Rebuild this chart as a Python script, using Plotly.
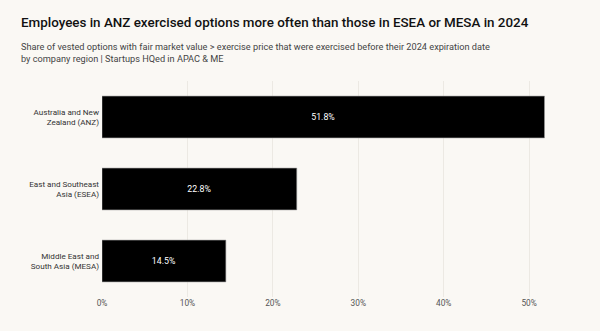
import plotly.graph_objects as go

regions = ["Australia and New<br>Zealand (ANZ)", "East and Southeast<br>Asia (ESEA)", "Middle East and<br>South Asia (MESA)"]
values = [51.8, 22.8, 14.5]
x_ticks = [0, 10, 20, 30, 40, 50]
x_tick_labels = ["0%", "10%", "20%", "30%", "40%", "50%"]

title = "Employees in ANZ exercised options more often than those in ESEA or MESA in 2024"
subtitle = ("Share of vested options with fair market value > exercise price that were exercised before their 2024 expiration date"
            "<br>by company region | Startups HQed in APAC & ME")

bg = "#FAF8F4"
font = "Roboto"

fig = go.Figure(go.Bar(
    x=values, y=regions, orientation="h",
    marker=dict(color="#000000", line=dict(color="#9a9a9a", width=0.6)),
    text=[f"{v:.1f}%" for v in values], textposition="inside",
    insidetextanchor="middle",
    textfont=dict(color="white", size=8.8, family=font),
    width=0.58,
))

W, H = 600, 331
ml, mr, mt, mb = 102, 35, 81, 34
pw, ph = W - ml - mr, H - mt - mb

def px(x):
    return (x - ml) / pw

def py(y):
    return (H - mb - y) / ph

fig.update_layout(
    width=W, height=H,
    margin=dict(l=ml, r=mr, t=mt, b=mb),
    paper_bgcolor=bg, plot_bgcolor=bg,
    showlegend=False,
    font=dict(family=font, color="#333"),
    xaxis=dict(range=[0, 54.2], tickvals=x_ticks, ticktext=x_tick_labels,
               showgrid=True, gridcolor="#ECE9E3", gridwidth=1, zeroline=False,
               showline=False, ticks="", tickfont=dict(size=8.3, color="#555", family=font)),
    yaxis=dict(autorange="reversed", showgrid=False, ticks="", showline=False,
               tickfont=dict(size=8.1, color="#333", family=font), ticklabelstandoff=2),
    annotations=[
        dict(text=title, xref="paper", yref="paper", x=px(19), y=py(22), xanchor="left", yanchor="middle",
             showarrow=False, font=dict(size=13.4, color="#111", family=font, weight=500)),
        dict(text=subtitle, xref="paper", yref="paper", x=px(19), y=py(39), xanchor="left", yanchor="top",
             align="left", showarrow=False, font=dict(size=9.2, color="#444", family=font)),
    ],
)

fig.write_html("out.html")
